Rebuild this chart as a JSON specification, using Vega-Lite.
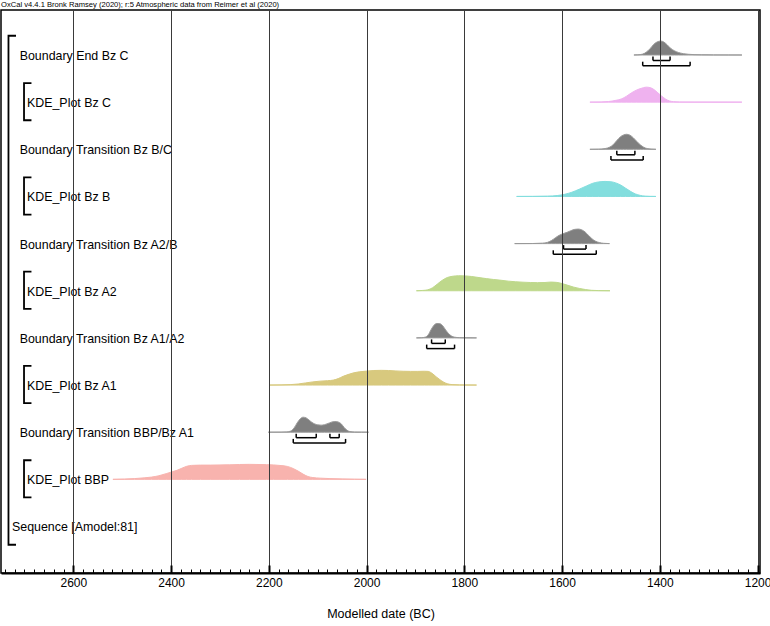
{
  "$schema": "https://vega.github.io/schema/vega-lite/v6.json",
  "width": 759,
  "height": 563,
  "autosize": "none",
  "padding": {"left": 1, "top": 10, "right": 10, "bottom": 53},
  "background": "white",
  "config": {
    "view": {"stroke": "#000", "strokeWidth": 1.5},
    "text": {"font": "Liberation Sans"}
  },
  "datasets": {
    "endC": [{"year":1453,"p":0},{"year":1445,"p":0.01},{"year":1435,"p":0.06},{"year":1428,"p":0.18},{"year":1420,"p":0.42},{"year":1412,"p":0.72},{"year":1405,"p":0.88},{"year":1398,"p":0.93},{"year":1392,"p":0.87},{"year":1385,"p":0.68},{"year":1378,"p":0.45},{"year":1370,"p":0.28},{"year":1362,"p":0.17},{"year":1352,"p":0.09},{"year":1342,"p":0.05},{"year":1330,"p":0.025},{"year":1315,"p":0.012},{"year":1290,"p":0.005},{"year":1260,"p":0.002},{"year":1232,"p":0}],
    "kdeC": [{"year":1543,"p":0},{"year":1520,"p":0.01},{"year":1505,"p":0.04},{"year":1490,"p":0.12},{"year":1478,"p":0.22},{"year":1468,"p":0.4},{"year":1458,"p":0.62},{"year":1448,"p":0.8},{"year":1438,"p":0.92},{"year":1428,"p":1},{"year":1420,"p":0.97},{"year":1412,"p":0.84},{"year":1404,"p":0.62},{"year":1396,"p":0.4},{"year":1388,"p":0.2},{"year":1380,"p":0.08},{"year":1372,"p":0.03},{"year":1360,"p":0.01},{"year":1330,"p":0.004},{"year":1232,"p":0}],
    "trBC": [{"year":1543,"p":0},{"year":1525,"p":0.01},{"year":1512,"p":0.05},{"year":1502,"p":0.15},{"year":1495,"p":0.32},{"year":1488,"p":0.58},{"year":1481,"p":0.82},{"year":1474,"p":0.96},{"year":1468,"p":1},{"year":1461,"p":0.94},{"year":1454,"p":0.76},{"year":1447,"p":0.52},{"year":1440,"p":0.3},{"year":1433,"p":0.14},{"year":1426,"p":0.05},{"year":1418,"p":0.015},{"year":1408,"p":0}],
    "kdeB": [{"year":1693,"p":0},{"year":1660,"p":0.005},{"year":1630,"p":0.02},{"year":1610,"p":0.06},{"year":1595,"p":0.14},{"year":1580,"p":0.28},{"year":1565,"p":0.48},{"year":1550,"p":0.7},{"year":1537,"p":0.88},{"year":1525,"p":0.97},{"year":1512,"p":1},{"year":1500,"p":0.98},{"year":1490,"p":0.9},{"year":1480,"p":0.76},{"year":1470,"p":0.55},{"year":1460,"p":0.34},{"year":1450,"p":0.17},{"year":1440,"p":0.07},{"year":1430,"p":0.02},{"year":1420,"p":0.005},{"year":1408,"p":0}],
    "trA2B": [{"year":1697,"p":0},{"year":1660,"p":0.005},{"year":1640,"p":0.03},{"year":1630,"p":0.08},{"year":1622,"p":0.2},{"year":1614,"p":0.38},{"year":1606,"p":0.55},{"year":1598,"p":0.66},{"year":1590,"p":0.75},{"year":1582,"p":0.86},{"year":1574,"p":0.95},{"year":1567,"p":0.97},{"year":1560,"p":0.92},{"year":1553,"p":0.78},{"year":1546,"p":0.55},{"year":1539,"p":0.33},{"year":1532,"p":0.17},{"year":1524,"p":0.07},{"year":1515,"p":0.02},{"year":1503,"p":0}],
    "kdeA2": [{"year":1898,"p":0},{"year":1885,"p":0.02},{"year":1875,"p":0.06},{"year":1865,"p":0.2},{"year":1855,"p":0.45},{"year":1845,"p":0.7},{"year":1835,"p":0.88},{"year":1825,"p":0.96},{"year":1812,"p":1},{"year":1798,"p":0.99},{"year":1785,"p":0.95},{"year":1770,"p":0.88},{"year":1755,"p":0.81},{"year":1740,"p":0.75},{"year":1725,"p":0.7},{"year":1710,"p":0.64},{"year":1695,"p":0.6},{"year":1680,"p":0.57},{"year":1665,"p":0.55},{"year":1650,"p":0.54},{"year":1635,"p":0.55},{"year":1622,"p":0.58},{"year":1612,"p":0.56},{"year":1600,"p":0.48},{"year":1588,"p":0.36},{"year":1576,"p":0.24},{"year":1564,"p":0.15},{"year":1552,"p":0.08},{"year":1540,"p":0.03},{"year":1525,"p":0.01},{"year":1502,"p":0}],
    "trA1A2": [{"year":1898,"p":0},{"year":1888,"p":0.01},{"year":1880,"p":0.05},{"year":1874,"p":0.2},{"year":1868,"p":0.55},{"year":1862,"p":0.85},{"year":1856,"p":0.96},{"year":1850,"p":0.95},{"year":1844,"p":0.8},{"year":1838,"p":0.52},{"year":1832,"p":0.28},{"year":1826,"p":0.12},{"year":1820,"p":0.05},{"year":1810,"p":0.015},{"year":1795,"p":0.004},{"year":1775,"p":0}],
    "kdeA1": [{"year":2198,"p":0},{"year":2175,"p":0.01},{"year":2155,"p":0.03},{"year":2140,"p":0.07},{"year":2125,"p":0.14},{"year":2110,"p":0.21},{"year":2095,"p":0.26},{"year":2080,"p":0.29},{"year":2068,"p":0.33},{"year":2058,"p":0.43},{"year":2048,"p":0.58},{"year":2038,"p":0.7},{"year":2028,"p":0.8},{"year":2015,"p":0.88},{"year":2000,"p":0.93},{"year":1985,"p":0.97},{"year":1970,"p":0.98},{"year":1955,"p":0.97},{"year":1940,"p":0.94},{"year":1925,"p":0.92},{"year":1910,"p":0.91},{"year":1895,"p":0.91},{"year":1882,"p":0.92},{"year":1874,"p":0.91},{"year":1866,"p":0.78},{"year":1858,"p":0.56},{"year":1850,"p":0.36},{"year":1842,"p":0.19},{"year":1834,"p":0.08},{"year":1825,"p":0.03},{"year":1810,"p":0.01},{"year":1775,"p":0}],
    "trBBPA1": [{"year":2201,"p":0},{"year":2175,"p":0.005},{"year":2163,"p":0.02},{"year":2155,"p":0.08},{"year":2148,"p":0.3},{"year":2142,"p":0.62},{"year":2136,"p":0.88},{"year":2130,"p":1},{"year":2124,"p":0.96},{"year":2118,"p":0.82},{"year":2112,"p":0.66},{"year":2106,"p":0.55},{"year":2100,"p":0.49},{"year":2093,"p":0.47},{"year":2086,"p":0.5},{"year":2079,"p":0.58},{"year":2072,"p":0.67},{"year":2065,"p":0.71},{"year":2058,"p":0.68},{"year":2052,"p":0.56},{"year":2046,"p":0.32},{"year":2040,"p":0.13},{"year":2034,"p":0.04},{"year":2025,"p":0.01},{"year":2010,"p":0.003},{"year":1996,"p":0}],
    "kdeBBP": [{"year":2519,"p":0},{"year":2495,"p":0.02},{"year":2475,"p":0.05},{"year":2455,"p":0.1},{"year":2440,"p":0.15},{"year":2425,"p":0.24},{"year":2410,"p":0.38},{"year":2398,"p":0.5},{"year":2388,"p":0.6},{"year":2378,"p":0.74},{"year":2368,"p":0.87},{"year":2358,"p":0.93},{"year":2340,"p":0.95},{"year":2320,"p":0.95},{"year":2300,"p":0.96},{"year":2280,"p":0.97},{"year":2260,"p":0.99},{"year":2240,"p":1},{"year":2220,"p":0.99},{"year":2205,"p":0.98},{"year":2190,"p":0.96},{"year":2175,"p":0.92},{"year":2162,"p":0.86},{"year":2150,"p":0.72},{"year":2140,"p":0.55},{"year":2130,"p":0.35},{"year":2120,"p":0.19},{"year":2110,"p":0.12},{"year":2095,"p":0.08},{"year":2075,"p":0.05},{"year":2050,"p":0.03},{"year":2025,"p":0.01},{"year":2001,"p":0}],
    "hpd": [
      {"name":"Boundary End Bz C","row":0,"level":"68.2","from":1414,"to":1379},
      {"name":"Boundary End Bz C","row":0,"level":"95.4","from":1435,"to":1338},
      {"name":"Boundary Transition Bz B/C","row":2,"level":"68.2","from":1488,"to":1451},
      {"name":"Boundary Transition Bz B/C","row":2,"level":"95.4","from":1500,"to":1434},
      {"name":"Boundary Transition Bz A2/B","row":4,"level":"68.2","from":1597,"to":1551},
      {"name":"Boundary Transition Bz A2/B","row":4,"level":"95.4","from":1618,"to":1530},
      {"name":"Boundary Transition Bz A1/A2","row":6,"level":"68.2","from":1867,"to":1839},
      {"name":"Boundary Transition Bz A1/A2","row":6,"level":"95.4","from":1877,"to":1820},
      {"name":"Boundary Transition BBP/Bz A1","row":8,"level":"68.2","from":2144,"to":2103},
      {"name":"Boundary Transition BBP/Bz A1","row":8,"level":"68.2","from":2075,"to":2056},
      {"name":"Boundary Transition BBP/Bz A1","row":8,"level":"95.4","from":2150,"to":2043}
    ],
    "labels": [
      {"label":"Boundary End Bz C","row":0,"kind":"Boundary"},
      {"label":"KDE_Plot Bz C","row":1,"kind":"KDE"},
      {"label":"Boundary Transition Bz B/C","row":2,"kind":"Boundary"},
      {"label":"KDE_Plot Bz B","row":3,"kind":"KDE"},
      {"label":"Boundary Transition Bz A2/B","row":4,"kind":"Boundary"},
      {"label":"KDE_Plot Bz A2","row":5,"kind":"KDE"},
      {"label":"Boundary Transition Bz A1/A2","row":6,"kind":"Boundary"},
      {"label":"KDE_Plot Bz A1","row":7,"kind":"KDE"},
      {"label":"Boundary Transition BBP/Bz A1","row":8,"kind":"Boundary"},
      {"label":"KDE_Plot BBP","row":9,"kind":"KDE"},
      {"label":"Sequence [Amodel:81]","row":10,"kind":"Sequence"}
    ],
    "header": [{"text": "OxCal v4.4.1 Bronk Ramsey (2020); r:5 Atmospheric data from Reimer et al (2020)"}]
  },
  "resolve": {"scale": {"y": "independent"}},
  "layer": [
    {
      "data": {"name": "endC"},
      "mark": {"type": "area", "interpolate": "monotone", "fill": "#7f7f7f", "stroke": "#999999", "strokeWidth": 1},
      "encoding": {
        "x": {"field": "year", "type": "quantitative", "title": "Modelled date (BC)",
          "scale": {"domain": [2748, 1195], "nice": false, "zero": false},
          "axis": {
            "tickCount": 78, "format": "d",
            "labelExpr": "datum.value % 200 === 0 ? datum.label : ''",
            "labelOverlap": false, "labelFlush": false, "labelFont": "Liberation Sans", "labelFontSize": 12, "labelColor": "#000", "labelPadding": 12,
            "grid": true, "gridColor": "#3a3a3a", "gridWidth": 1,
            "gridOpacity": {"condition": {"test": "datum.value % 200 === 0", "value": 1}, "value": 0},
            "ticks": true, "tickColor": "#000",
            "tickSize": {"condition": {"test": "datum.value % 200 === 0", "value": -8}, "value": -4},
            "tickWidth": {"condition": {"test": "datum.value % 200 === 0", "value": 2}, "value": 1},
            "domain": true, "domainColor": "#000", "domainWidth": 2,
            "titleFont": "Liberation Sans", "titleFontSize": 12.5, "titleFontWeight": "normal", "titleColor": "#000", "titlePadding": 15,
            "zindex": 1
          }},
        "y": {"field": "p", "type": "quantitative", "stack": null, "axis": null, "scale": {"domain": [-34.5333, 3], "nice": false, "zero": false}}
      }
    },
    {
      "data": {"name": "kdeC"},
      "mark": {"type": "area", "interpolate": "monotone", "fill": "#efb2ef", "stroke": "#efb2ef", "strokeWidth": 1},
      "encoding": {
        "x": {"field": "year", "type": "quantitative", "title": "Modelled date (BC)", "scale": {"domain": [2748, 1195], "nice": false, "zero": false}},
        "y": {"field": "p", "type": "quantitative", "stack": null, "axis": null, "scale": {"domain": [-31.39, 6.1433], "nice": false, "zero": false}}
      }
    },
    {
      "data": {"name": "trBC"},
      "mark": {"type": "area", "interpolate": "monotone", "fill": "#7f7f7f", "stroke": "#999999", "strokeWidth": 1},
      "encoding": {
        "x": {"field": "year", "type": "quantitative", "title": "Modelled date (BC)", "scale": {"domain": [2748, 1195], "nice": false, "zero": false}},
        "y": {"field": "p", "type": "quantitative", "stack": null, "axis": null, "scale": {"domain": [-28.2467, 9.2867], "nice": false, "zero": false}}
      }
    },
    {
      "data": {"name": "kdeB"},
      "mark": {"type": "area", "interpolate": "monotone", "fill": "#83dede", "stroke": "#83dede", "strokeWidth": 1},
      "encoding": {
        "x": {"field": "year", "type": "quantitative", "title": "Modelled date (BC)", "scale": {"domain": [2748, 1195], "nice": false, "zero": false}},
        "y": {"field": "p", "type": "quantitative", "stack": null, "axis": null, "scale": {"domain": [-25.1033, 12.43], "nice": false, "zero": false}}
      }
    },
    {
      "data": {"name": "trA2B"},
      "mark": {"type": "area", "interpolate": "monotone", "fill": "#7f7f7f", "stroke": "#999999", "strokeWidth": 1},
      "encoding": {
        "x": {"field": "year", "type": "quantitative", "title": "Modelled date (BC)", "scale": {"domain": [2748, 1195], "nice": false, "zero": false}},
        "y": {"field": "p", "type": "quantitative", "stack": null, "axis": null, "scale": {"domain": [-21.96, 15.5733], "nice": false, "zero": false}}
      }
    },
    {
      "data": {"name": "kdeA2"},
      "mark": {"type": "area", "interpolate": "monotone", "fill": "#bed88b", "stroke": "#bed88b", "strokeWidth": 1},
      "encoding": {
        "x": {"field": "year", "type": "quantitative", "title": "Modelled date (BC)", "scale": {"domain": [2748, 1195], "nice": false, "zero": false}},
        "y": {"field": "p", "type": "quantitative", "stack": null, "axis": null, "scale": {"domain": [-18.8167, 18.7167], "nice": false, "zero": false}}
      }
    },
    {
      "data": {"name": "trA1A2"},
      "mark": {"type": "area", "interpolate": "monotone", "fill": "#7f7f7f", "stroke": "#999999", "strokeWidth": 1},
      "encoding": {
        "x": {"field": "year", "type": "quantitative", "title": "Modelled date (BC)", "scale": {"domain": [2748, 1195], "nice": false, "zero": false}},
        "y": {"field": "p", "type": "quantitative", "stack": null, "axis": null, "scale": {"domain": [-15.6733, 21.86], "nice": false, "zero": false}}
      }
    },
    {
      "data": {"name": "kdeA1"},
      "mark": {"type": "area", "interpolate": "monotone", "fill": "#d8c97e", "stroke": "#d8c97e", "strokeWidth": 1},
      "encoding": {
        "x": {"field": "year", "type": "quantitative", "title": "Modelled date (BC)", "scale": {"domain": [2748, 1195], "nice": false, "zero": false}},
        "y": {"field": "p", "type": "quantitative", "stack": null, "axis": null, "scale": {"domain": [-12.53, 25.0033], "nice": false, "zero": false}}
      }
    },
    {
      "data": {"name": "trBBPA1"},
      "mark": {"type": "area", "interpolate": "monotone", "fill": "#7f7f7f", "stroke": "#999999", "strokeWidth": 1},
      "encoding": {
        "x": {"field": "year", "type": "quantitative", "title": "Modelled date (BC)", "scale": {"domain": [2748, 1195], "nice": false, "zero": false}},
        "y": {"field": "p", "type": "quantitative", "stack": null, "axis": null, "scale": {"domain": [-9.3867, 28.1467], "nice": false, "zero": false}}
      }
    },
    {
      "data": {"name": "kdeBBP"},
      "mark": {"type": "area", "interpolate": "monotone", "fill": "#f8b3ae", "stroke": "#f8b3ae", "strokeWidth": 1},
      "encoding": {
        "x": {"field": "year", "type": "quantitative", "title": "Modelled date (BC)", "scale": {"domain": [2748, 1195], "nice": false, "zero": false}},
        "y": {"field": "p", "type": "quantitative", "stack": null, "axis": null, "scale": {"domain": [-6.2433, 31.29], "nice": false, "zero": false}}
      }
    },
    {
      "data": {"name": "hpd"},
      "transform": [{"filter": "datum.level === '68.2'"}],
      "mark": {"type": "rule", "color": "#000", "strokeWidth": 1.5},
      "encoding": {
        "x": {"field": "from", "type": "quantitative", "title": "Modelled date (BC)", "scale": {"domain": [2748, 1195], "nice": false, "zero": false}},
        "x2": {"field": "to"},
        "y": {"field": "row", "type": "quantitative", "axis": null, "scale": {"domain": [-1.071, 10.8696], "reverse": true, "nice": false, "zero": false}}
      }
    },
    {
      "data": {"name": "hpd"},
      "transform": [{"filter": "datum.level === '68.2'"}, {"fold": ["from", "to"], "as": ["end", "yr"]}],
      "mark": {"type": "tick", "orient": "vertical", "color": "#000", "size": 4, "thickness": 1.5, "opacity": 1},
      "encoding": {
        "x": {"field": "yr", "type": "quantitative", "title": "Modelled date (BC)", "scale": {"domain": [2748, 1195], "nice": false, "zero": false}},
        "y": {"field": "row", "type": "quantitative", "axis": null, "scale": {"domain": [-1.0286, 10.912], "reverse": true, "nice": false, "zero": false}}
      }
    },
    {
      "data": {"name": "hpd"},
      "transform": [{"filter": "datum.level === '95.4'"}],
      "mark": {"type": "rule", "color": "#000", "strokeWidth": 1.5},
      "encoding": {
        "x": {"field": "from", "type": "quantitative", "title": "Modelled date (BC)", "scale": {"domain": [2748, 1195], "nice": false, "zero": false}},
        "x2": {"field": "to"},
        "y": {"field": "row", "type": "quantitative", "axis": null, "scale": {"domain": [-1.1813, 10.7593], "reverse": true, "nice": false, "zero": false}}
      }
    },
    {
      "data": {"name": "hpd"},
      "transform": [{"filter": "datum.level === '95.4'"}, {"fold": ["from", "to"], "as": ["end", "yr"]}],
      "mark": {"type": "tick", "orient": "vertical", "color": "#000", "size": 4, "thickness": 1.5, "opacity": 1},
      "encoding": {
        "x": {"field": "yr", "type": "quantitative", "title": "Modelled date (BC)", "scale": {"domain": [2748, 1195], "nice": false, "zero": false}},
        "y": {"field": "row", "type": "quantitative", "axis": null, "scale": {"domain": [-1.1389, 10.8017], "reverse": true, "nice": false, "zero": false}}
      }
    },
    {
      "data": {"name": "labels"},
      "transform": [{"filter": "datum.kind === 'Boundary'"}],
      "mark": {"type": "text", "align": "left", "baseline": "alphabetic", "font": "Liberation Sans", "fontSize": 12.4, "color": "#000"},
      "encoding": {
        "x": {"datum": 2709.7, "type": "quantitative", "title": "Modelled date (BC)", "scale": {"domain": [2748, 1195], "nice": false, "zero": false}},
        "y": {"field": "row", "type": "quantitative", "axis": null, "scale": {"domain": [-1.0604, 10.8802], "reverse": true, "nice": false, "zero": false}},
        "text": {"field": "label"}
      }
    },
    {
      "data": {"name": "labels"},
      "transform": [{"filter": "datum.kind === 'KDE'"}],
      "mark": {"type": "text", "align": "left", "baseline": "alphabetic", "font": "Liberation Sans", "fontSize": 12.4, "color": "#000"},
      "encoding": {
        "x": {"datum": 2694.8, "type": "quantitative", "title": "Modelled date (BC)", "scale": {"domain": [2748, 1195], "nice": false, "zero": false}},
        "y": {"field": "row", "type": "quantitative", "axis": null, "scale": {"domain": [-1.0604, 10.8802], "reverse": true, "nice": false, "zero": false}},
        "text": {"field": "label"}
      }
    },
    {
      "data": {"name": "labels"},
      "transform": [{"filter": "datum.kind === 'Sequence'"}],
      "mark": {"type": "text", "align": "left", "baseline": "alphabetic", "font": "Liberation Sans", "fontSize": 12.4, "color": "#000"},
      "encoding": {
        "x": {"datum": 2725.5, "type": "quantitative", "title": "Modelled date (BC)", "scale": {"domain": [2748, 1195], "nice": false, "zero": false}},
        "y": {"field": "row", "type": "quantitative", "axis": null, "scale": {"domain": [-1.0604, 10.8802], "reverse": true, "nice": false, "zero": false}},
        "text": {"field": "label"}
      }
    },
    {
      "data": {"name": "header"},
      "mark": {"type": "text", "align": "left", "baseline": "alphabetic", "font": "Liberation Sans", "fontSize": 7.6, "color": "#000"},
      "encoding": {
        "x": {"datum": 2748, "type": "quantitative", "title": "Modelled date (BC)", "scale": {"domain": [2748, 1195], "nice": false, "zero": false}},
        "y": {"datum": -1.13, "type": "quantitative", "axis": null, "scale": {"domain": [-1.0604, 10.8802], "reverse": true, "nice": false, "zero": false}},
        "text": {"field": "text"}
      }
    },
    {
      "data": {"name": "labels"},
      "transform": [{"filter": "datum.kind === 'KDE'"}],
      "mark": {"type": "point", "shape": "M0.4,-1L0,-1L0,1L0.4,1", "size": 1384, "filled": false, "color": "#000", "strokeWidth": 1.8, "opacity": 1},
      "encoding": {
        "x": {"datum": 2700.9, "type": "quantitative", "title": "Modelled date (BC)", "scale": {"domain": [2748, 1195], "nice": false, "zero": false}},
        "y": {"field": "row", "type": "quantitative", "axis": null, "scale": {"domain": [-0.9438, 10.9968], "reverse": true, "nice": false, "zero": false}}
      }
    },
    {
      "data": {"name": "labels"},
      "transform": [{"filter": "datum.kind === 'Sequence'"}],
      "mark": {"type": "point", "shape": "M0.0295,-1L0,-1L0,1L0.0295,1", "size": 259081, "filled": false, "color": "#000", "strokeWidth": 1.8, "opacity": 1},
      "encoding": {
        "x": {"datum": 2732.7, "type": "quantitative", "title": "Modelled date (BC)", "scale": {"domain": [2748, 1195], "nice": false, "zero": false}},
        "y": {"datum": 5, "type": "quantitative", "axis": null, "scale": {"domain": [-0.9438, 10.9968], "reverse": true, "nice": false, "zero": false}}
      }
    }
  ]
}
